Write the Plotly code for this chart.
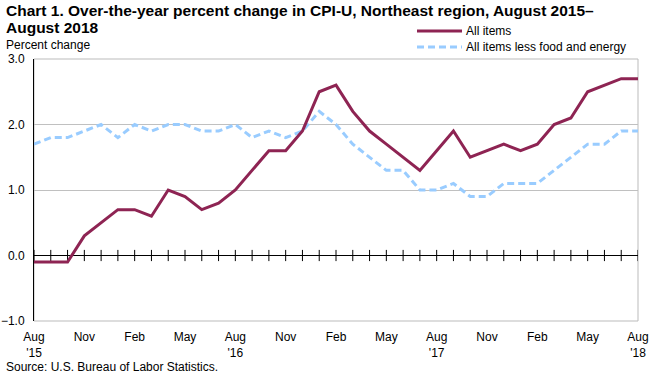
import plotly.graph_objects as go

months = ["Aug 2015","Sep 2015","Oct 2015","Nov 2015","Dec 2015","Jan 2016","Feb 2016","Mar 2016",
          "Apr 2016","May 2016","Jun 2016","Jul 2016","Aug 2016","Sep 2016","Oct 2016","Nov 2016",
          "Dec 2016","Jan 2017","Feb 2017","Mar 2017","Apr 2017","May 2017","Jun 2017","Jul 2017",
          "Aug 2017","Sep 2017","Oct 2017","Nov 2017","Dec 2017","Jan 2018","Feb 2018","Mar 2018",
          "Apr 2018","May 2018","Jun 2018","Jul 2018","Aug 2018"]
all_items = [-0.1,-0.1,-0.1,0.3,0.5,0.7,0.7,0.6,1.0,0.9,0.7,0.8,1.0,1.3,1.6,1.6,1.9,2.5,2.6,2.2,
             1.9,1.7,1.5,1.3,1.6,1.9,1.5,1.6,1.7,1.6,1.7,2.0,2.1,2.5,2.6,2.7,2.7]
core = [1.7,1.8,1.8,1.9,2.0,1.8,2.0,1.9,2.0,2.0,1.9,1.9,2.0,1.8,1.9,1.8,1.9,2.2,2.0,1.7,
        1.5,1.3,1.3,1.0,1.0,1.1,0.9,0.9,1.1,1.1,1.1,1.3,1.5,1.7,1.7,1.9,1.9]
tick_labels = ["Aug<br>'15","Nov","Feb","May","Aug<br>'16","Nov","Feb","May","Aug<br>'17",
               "Nov","Feb","May","Aug<br>'18"]
series_names = ["All items", "All items less food and energy"]
title_lines = ["Chart 1. Over-the-year percent change in CPI-U, Northeast region, August 2015–",
               "August 2018"]
colors = ["#8E2453", "#99CCFF"]

x = list(range(len(months)))
FONT = "Liberation Sans, Arial, sans-serif"

L, R, T, B = 34, 12, 59, 53
W, H = 650, 374
pw, ph = W - L - R, H - T - B
def px(v): return (v - L) / pw
def py(v): return (H - B - v) / ph

fig = go.Figure()
fig.add_trace(go.Scatter(x=x, y=[0]*len(x), mode="markers", showlegend=False, hoverinfo="skip",
                         marker=dict(symbol="line-ns", size=8, line=dict(width=1, color="black"), color="black")))
fig.add_trace(go.Scatter(x=x, y=core, mode="lines", name=series_names[1], showlegend=False,
                         line=dict(color=colors[1], width=3, dash="7px,4px")))
fig.add_trace(go.Scatter(x=x, y=all_items, mode="lines", name=series_names[0], showlegend=False,
                         line=dict(color=colors[0], width=3)))

shapes = [dict(type="rect", xref="paper", yref="paper", x0=0, x1=1, y0=0, y1=1,
               line=dict(color="#BBBBBB", width=1), layer="below")]
annotations = [
    dict(text="<b>%s</b>" % title_lines[0], xref="paper", yref="paper", x=px(4), y=py(11),
         xanchor="left", yanchor="middle", showarrow=False, font=dict(size=15.5)),
    dict(text="<b>%s</b>" % title_lines[1], xref="paper", yref="paper", x=px(4), y=py(28),
         xanchor="left", yanchor="middle", showarrow=False, font=dict(size=15.5)),
    dict(text="Percent change", xref="paper", yref="paper", x=px(4), y=py(45), xanchor="left",
         yanchor="middle", showarrow=False, font=dict(size=12)),
    dict(text="Source: U.S. Bureau of Labor Statistics.", xref="paper", yref="paper", x=px(4),
         y=py(367), xanchor="left", yanchor="middle", showarrow=False, font=dict(size=12)),
]
leg_y = [31, 47]
dashes = ["solid", "7px,4px"]
for i, name in enumerate(series_names):
    shapes.append(dict(type="line", xref="paper", yref="paper", x0=px(417), x1=px(462),
                       y0=py(leg_y[i]), y1=py(leg_y[i]), line=dict(color=colors[i], width=3, dash=dashes[i])))
    annotations.append(dict(text=name, xref="paper", yref="paper", x=px(464), y=py(leg_y[i]),
                            xanchor="left", yanchor="middle", showarrow=False, font=dict(size=12)))

fig.update_layout(
    width=W, height=H,
    margin=dict(l=L, r=R, t=T, b=B, autoexpand=False),
    paper_bgcolor="white", plot_bgcolor="white",
    font=dict(family=FONT, size=12, color="black"),
    showlegend=False,
    xaxis=dict(range=[0, 36], tickmode="array", tickvals=list(range(0, 37, 3)), ticktext=tick_labels,
               showgrid=False, zeroline=False, showline=False, ticks="", tickfont=dict(size=12),
               ticklabelstandoff=7, automargin=False),
    yaxis=dict(range=[-1, 3], dtick=1, tickformat=".1f", showgrid=True, gridcolor="#C0C0C0", gridwidth=1,
               zeroline=True, zerolinecolor="black", zerolinewidth=1,
               showline=True, linecolor="black", linewidth=1, ticks="", tickfont=dict(size=12),
               ticklabelstandoff=6, automargin=False),
    shapes=shapes,
    annotations=annotations,
)
fig.write_html("out.html", config={"displayModeBar": False},
               post_script="document.body.style.margin='0px';document.body.style.overflow='hidden';")
